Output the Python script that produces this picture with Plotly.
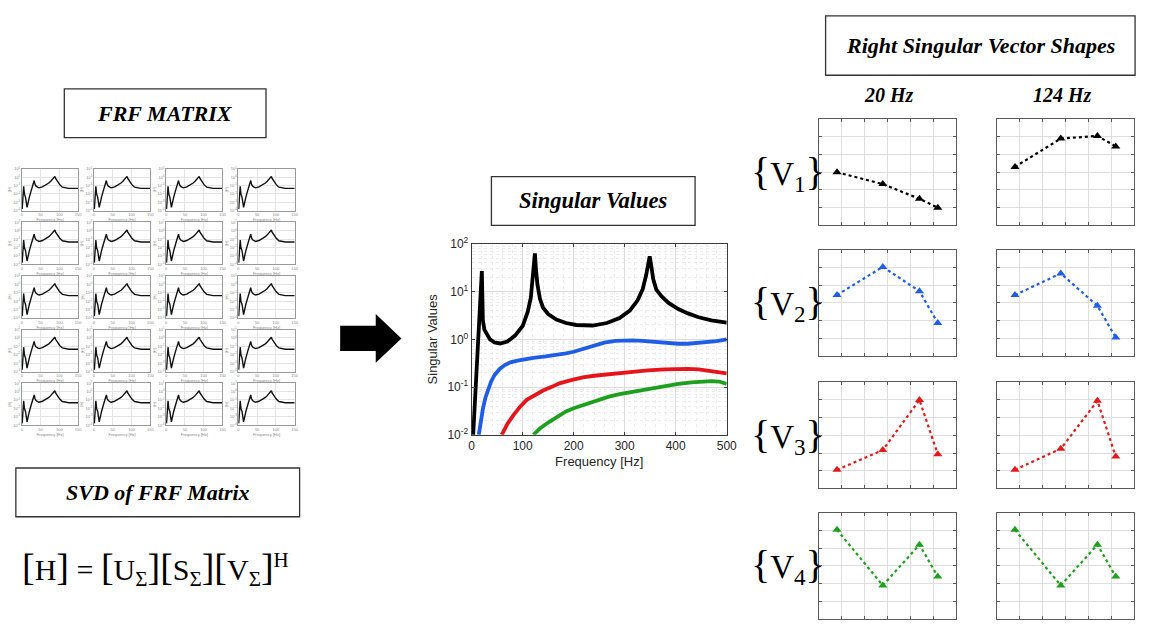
import plotly.graph_objects as go

W, H = 1151, 628

# ---- FRF (one element of the matrix, reused in every cell) ----
frf_freq = [1, 3, 5, 7, 10, 14, 17, 20, 25, 29, 31, 33, 35, 38, 42, 46, 55, 64, 72, 77, 82, 86, 88, 90, 95, 101, 108, 116, 125, 150]
frf_mag = [1.6e-4, 5e-3, 8e-2, 1e-2, 4e-3, 2.5e-4, 1.2e-3, 4e-3, 2.5e-2, 8.5e-2, 0.18, 0.4, 0.15, 8.5e-2, 6.5e-2, 5.4e-2, 7e-2, 0.11, 0.2, 0.33, 0.6, 0.9, 1.25, 0.7, 0.28, 0.13, 6.5e-2, 5.2e-2, 4.6e-2, 4.6e-2]

# ---- singular values ----
sv1_f = [3, 6, 9, 12, 15, 17, 19, 20, 21, 22, 25, 30, 36, 45, 56, 70, 85, 100, 110, 116, 120, 122, 124, 126, 129, 134, 140, 150, 166, 185, 205, 237, 265, 290, 310, 325, 335, 342, 346, 349, 352, 356, 362, 372, 386, 405, 424, 445, 470, 500]
sv1_v = [0.01, 0.04, 0.15, 0.5, 1.5, 4.0, 12, 27, 8, 2.5, 1.6, 1.25, 1.0, 0.86, 0.82, 0.9, 1.2, 1.9, 3.8, 7.5, 18, 35, 63, 30, 14, 7, 4.6, 3.4, 2.6, 2.2, 2.0, 1.95, 2.2, 2.8, 4.0, 6.5, 11, 22, 40, 55, 35, 18, 11, 8, 5.8, 4.3, 3.5, 2.9, 2.5, 2.25]
sv2_f = [14, 18, 22, 27, 32, 38, 45, 55, 65, 76, 90, 105, 121, 145, 166, 185, 200, 220, 240, 260, 282, 300, 315, 335, 350, 370, 386, 405, 424, 440, 457, 480, 500]
sv2_v = [0.01, 0.02, 0.035, 0.06, 0.09, 0.13, 0.18, 0.24, 0.29, 0.33, 0.36, 0.39, 0.41, 0.44, 0.47, 0.51, 0.55, 0.63, 0.74, 0.85, 0.93, 0.95, 0.95, 0.93, 0.9, 0.86, 0.83, 0.81, 0.81, 0.83, 0.86, 0.92, 1.0]
sv3_f = [59, 70, 82, 95, 108, 125, 140, 156, 172, 195, 218, 240, 263, 290, 315, 345, 379, 400, 424, 445, 463, 485, 500]
sv3_v = [0.01, 0.017, 0.026, 0.039, 0.054, 0.07, 0.085, 0.1, 0.12, 0.14, 0.16, 0.173, 0.185, 0.2, 0.21, 0.225, 0.235, 0.24, 0.24, 0.235, 0.22, 0.205, 0.195]
sv4_f = [121, 135, 153, 170, 185, 200, 218, 240, 269, 290, 315, 345, 379, 405, 431, 450, 470, 485, 500]
sv4_v = [0.01, 0.014, 0.019, 0.025, 0.031, 0.036, 0.042, 0.051, 0.063, 0.071, 0.079, 0.092, 0.107, 0.117, 0.126, 0.131, 0.134, 0.131, 0.117]

# ---- right singular vectors at 20 Hz and 124 Hz ----
dof_pos = [0.8, 2.8, 4.4, 5.2]
v1_20 = [3.0, 2.33, 1.5, 1.0]
v1_124 = [3.3, 4.9, 5.05, 4.46]
v2_20 = [3.44, 5.03, 3.66, 1.86]
v2_124 = [3.44, 4.66, 2.83, 1.04]
v3_20 = [1.05, 2.17, 5.0, 1.93]
v3_124 = [1.05, 2.24, 4.95, 1.8]
v4_20 = [5.04, 1.9, 4.2, 2.4]
v4_124 = [5.04, 1.9, 4.2, 2.4]

decade_text = {1e-4: "10<sup>-4</sup>", 1e-3: "10<sup>-3</sup>", 1e-2: "10<sup>-2</sup>",
               1e-1: "10<sup>-1</sup>", 1: "10<sup>0</sup>", 10: "10<sup>1</sup>", 100: "10<sup>2</sup>"}

SERIF = "Liberation Serif"
SANS = "Liberation Sans"

fig = go.Figure()
layout = {}
axis_count = [0]


def px_domain(x0, y0, x1, y1):
    return [x0 / W, x1 / W], [1 - y1 / H, 1 - y0 / H]


def add_axes(x0, y0, x1, y1, xcfg, ycfg):
    axis_count[0] += 1
    n = axis_count[0]
    s = "" if n == 1 else str(n)
    dx, dy = px_domain(x0, y0, x1, y1)
    layout["xaxis" + s] = dict(domain=dx, anchor="y" + s, **xcfg)
    layout["yaxis" + s] = dict(domain=dy, anchor="x" + s, **ycfg)
    return "x" + s, "y" + s


# ---- 5 x 4 grid of FRF plots ----
frf_ticks_y = [1e-4, 1e-3, 1e-2, 1e-1, 1, 10]
tiny = dict(size=4, color="#888", family=SANS)
for r in range(5):
    for c in range(4):
        x0 = 19 + 73 * c
        y0 = 164 + 55 * r
        xa, ya = add_axes(
            x0, y0, x0 + 57, y0 + 43,
            dict(range=[0, 150], tickvals=[0, 50, 100, 150], tickfont=tiny,
                 showgrid=True, gridcolor="#e4e4e4", gridwidth=0.6, zeroline=False,
                 showline=True, linecolor="#9a9a9a", linewidth=0.6, mirror=True, ticks="",
                 title=dict(text="Frequency [Hz]", font=tiny, standoff=1)),
            dict(type="log", range=[-4, 1], tickvals=frf_ticks_y, ticktext=[decade_text[v] for v in frf_ticks_y],
                 tickfont=tiny, showgrid=True, gridcolor="#e4e4e4",
                 gridwidth=0.6, zeroline=False, showline=True, linecolor="#9a9a9a", linewidth=0.6, mirror=True,
                 ticks="", title=dict(text="|H|", font=tiny, standoff=1)),
        )
        fig.add_trace(go.Scatter(x=frf_freq, y=frf_mag, mode="lines", xaxis=xa, yaxis=ya,
                                 line=dict(color="#111", width=1.4), hoverinfo="skip"))

# ---- singular value plot ----
sv_ticks_y = [1e-2, 1e-1, 1, 10, 100]
xa, ya = add_axes(
    474, 241, 732, 437,
    dict(range=[0, 500], dtick=100, tickfont=dict(size=12, color="#262626", family=SANS),
         showgrid=True, gridcolor="#dcdcdc", gridwidth=1, zeroline=False,
         showline=True, linecolor="#3a3a3a", linewidth=1, mirror="ticks", ticks="inside", ticklen=3,
         tickcolor="#3a3a3a",
         minor=dict(dtick=20, showgrid=True, gridcolor="#ececec", griddash="dot", gridwidth=0.8),
         title=dict(text="Frequency [Hz]", font=dict(size=13, color="#262626", family=SANS), standoff=4)),
    dict(type="log", range=[-2, 2], tickvals=sv_ticks_y, ticktext=[decade_text[v] for v in sv_ticks_y],
         tickfont=dict(size=12, color="#262626", family=SANS), showgrid=True, gridcolor="#dcdcdc", gridwidth=1,
         zeroline=False, showline=True, linecolor="#3a3a3a", linewidth=1, mirror="ticks", ticks="inside",
         ticklen=3, tickcolor="#3a3a3a",
         minor=dict(dtick="D1", showgrid=True, gridcolor="#ececec", griddash="dot", gridwidth=0.8),
         title=dict(text="Singular Values", font=dict(size=13, color="#262626", family=SANS), standoff=6)),
)
for f, v, col in [(sv1_f, sv1_v, "#000000"), (sv2_f, sv2_v, "#1f5de6"),
                  (sv3_f, sv3_v, "#e8141b"), (sv4_f, sv4_v, "#1ea01e")]:
    fig.add_trace(go.Scatter(x=f, y=v, mode="lines", xaxis=xa, yaxis=ya, cliponaxis=True,
                             line=dict(color=col, width=3.8), hoverinfo="skip"))

# ---- singular vector shape plots ----
row_tops = [113, 247, 383, 517]
col_lefts = [825, 1005]
vec_rows = [(v1_20, v1_124, "#000000"), (v2_20, v2_124, "#1f5de6"),
            (v3_20, v3_124, "#e31a1c"), (v4_20, v4_124, "#1ea01e")]
shape_axis = dict(range=[0, 6], dtick=1, showticklabels=False, showgrid=True, gridcolor="#dedede",
                  gridwidth=1, zeroline=False, showline=True, linecolor="#5a5a5a", linewidth=1,
                  mirror="ticks", ticks="inside", ticklen=3, tickcolor="#5a5a5a")
for r, (a, b, col) in enumerate(vec_rows):
    for c, vals in enumerate([a, b]):
        x0 = col_lefts[c]
        y0 = row_tops[r]
        xa, ya = add_axes(x0, y0, x0 + 139, y0 + 109, dict(shape_axis), dict(shape_axis))
        fig.add_trace(go.Scatter(x=dof_pos, y=vals, mode="lines+markers", xaxis=xa, yaxis=ya,
                                 line=dict(color=col, width=2.2, dash="dot"),
                                 marker=dict(symbol="triangle-up", size=8, color=col), hoverinfo="skip"))

# ---- boxed titles ----
shapes = []
annotations = []


def boxed(x0, y0, x1, y1, text, size):
    shapes.append(dict(type="rect", xref="paper", yref="paper", x0=x0 / W, x1=x1 / W,
                       y0=1 - y1 / H, y1=1 - y0 / H, line=dict(color="#333", width=1.3)))
    annotations.append(dict(xref="paper", yref="paper", x=(x0 + x1) / 2 / W, y=1 - (y0 + y1) / 2 / H,
                            text=text, showarrow=False, xanchor="center", yanchor="middle",
                            font=dict(family=SERIF, size=size, color="#000", style="italic", weight="bold")))


boxed(62, 82, 266, 132, "FRF MATRIX", 22)
boxed(494, 172, 700, 222, "Singular Values", 22.5)
boxed(13, 471, 300, 521, "SVD of FRF Matrix", 22)
boxed(832, 7, 1145, 68, "Right Singular Vector Shapes", 22)

for xc, txt in [(896, "20 Hz"), (1072, "124 Hz")]:
    annotations.append(dict(xref="paper", yref="paper", x=xc / W, y=1 - 88 / H, text=txt, showarrow=False,
                            xanchor="center", yanchor="middle",
                            font=dict(family=SERIF, size=20, color="#000", style="italic", weight="bold")))

for r in range(4):
    yc = row_tops[r] + 55
    annotations.append(dict(xref="paper", yref="paper", x=794 / W, y=1 - yc / H,
                            text="<span style='font-size:40px'>{</span>V<sub>%d</sub>"
                                 "<span style='font-size:40px'>}</span>" % (r + 1),
                            showarrow=False, xanchor="center",
                            yanchor="middle", font=dict(family=SERIF, size=33, color="#000")))

annotations.append(dict(xref="paper", yref="paper", x=154 / W, y=1 - 574 / H,
                        text="<span style='font-size:38px'>[</span>H<span style='font-size:38px'>]</span> = "
                             "<span style='font-size:38px'>[</span>U<sub>Σ</sub><span style='font-size:38px'>]</span>"
                             "<span style='font-size:38px'>[</span>S<sub>Σ</sub><span style='font-size:38px'>]</span>"
                             "<span style='font-size:38px'>[</span>V<sub>Σ</sub><span style='font-size:38px'>]</span>"
                             "<sup>H</sup>",
                        showarrow=False, xanchor="center", yanchor="middle",
                        font=dict(family=SERIF, size=30, color="#000")))

# ---- block arrow between the FRF matrix and the singular values ----
ax0, ax1, ax2 = 341 / W, 377 / W, 403 / W
ym = 1 - 338 / H
hs = 13 / H
hh = 25 / H
shapes.append(dict(type="path", xref="paper", yref="paper",
                   path=(f"M {ax0},{ym + hs} L {ax1},{ym + hs} L {ax1},{ym + hh} L {ax2},{ym} "
                         f"L {ax1},{ym - hh} L {ax1},{ym - hs} L {ax0},{ym - hs} Z"),
                   fillcolor="#000", line=dict(color="#000", width=0)))

layout.update(dict(width=W, height=H, margin=dict(l=0, r=0, t=0, b=0), paper_bgcolor="white",
                   plot_bgcolor="white", showlegend=False, shapes=shapes, annotations=annotations))
fig.update_layout(**layout)
fig.write_html("out.html")
